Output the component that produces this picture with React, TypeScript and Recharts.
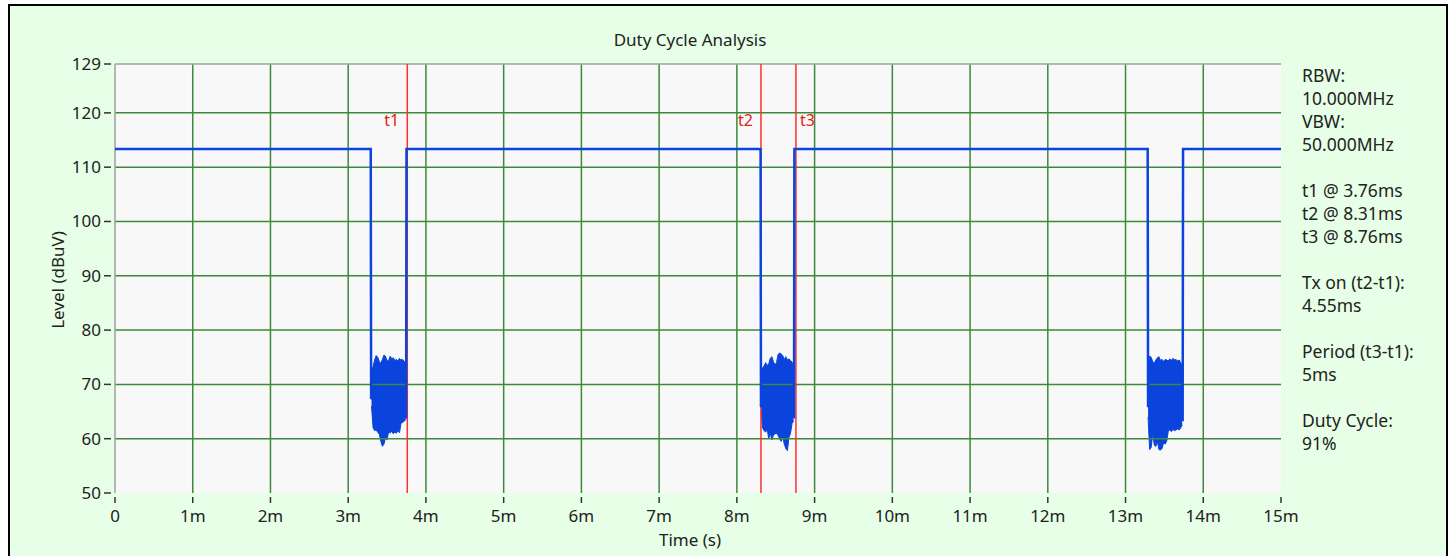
import React from 'react';
import { ComposedChart, Line, Area, XAxis, YAxis, ReferenceLine, ReferenceArea } from 'recharts';

// time axis in ms, level in dBuV
const timeTicks = [0, 1, 2, 3, 4, 5, 6, 7, 8, 9, 10, 11, 12, 13, 14, 15];
const levelTicks = [50, 60, 70, 80, 90, 100, 110, 120, 129];
const gridTimes = [1, 2, 3, 4, 5, 6, 7, 8, 9, 10, 11, 12, 13, 14];
const gridLevels = [60, 70, 80, 90, 100, 110, 120];

// main trace: carrier level with the drops into each off burst
const traceTimes = [0, 3.29, 3.295, 3.745, 3.75, 8.305, 8.31, 8.735, 8.74, 13.285, 13.29, 13.735, 13.74, 15];
const traceLevels = [113.35, 113.35, 67.5, 64.0, 113.35, 113.35, 66.0, 64.0, 113.35, 113.35, 66.0, 63.5, 113.35, 113.35];

// noise floor while the transmitter is off: [t, low, high]
const burst1: [number, number, number][] = [
  [3.30, 66.0, 72.5], [3.32, 62.0, 73.3], [3.34, 61.5, 74.5], [3.36, 61.6, 75.3],
  [3.38, 61.2, 75.0], [3.40, 60.8, 74.2], [3.42, 59.5, 73.9], [3.44, 58.6, 74.6],
  [3.46, 59.0, 75.4], [3.48, 60.2, 75.2], [3.50, 59.8, 74.3], [3.52, 61.3, 74.4],
  [3.54, 61.0, 75.2], [3.56, 61.4, 74.7], [3.58, 60.9, 74.9], [3.60, 61.2, 74.4],
  [3.62, 61.0, 74.6], [3.64, 61.5, 74.3], [3.66, 61.1, 74.8], [3.68, 62.9, 74.5],
  [3.70, 63.0, 74.6], [3.72, 63.2, 74.2], [3.74, 63.5, 74.0],
];
const burst2: [number, number, number][] = [
  [8.31, 65.0, 72.0], [8.33, 62.0, 73.0], [8.35, 61.5, 73.4], [8.37, 61.2, 74.0],
  [8.39, 61.8, 73.5], [8.41, 60.0, 73.8], [8.43, 61.0, 74.8], [8.45, 59.8, 75.1],
  [8.47, 60.6, 74.2], [8.49, 60.9, 73.6], [8.51, 61.0, 74.0], [8.53, 60.6, 75.5],
  [8.55, 60.0, 75.8], [8.57, 59.5, 75.6], [8.59, 60.4, 75.3], [8.61, 59.0, 74.6],
  [8.63, 58.2, 75.1], [8.65, 57.8, 74.5], [8.67, 60.2, 74.7], [8.69, 61.0, 74.4],
  [8.71, 62.8, 74.1], [8.73, 63.2, 73.0],
];
const burst3: [number, number, number][] = [
  [13.29, 64.0, 73.0], [13.31, 58.0, 75.2], [13.33, 58.4, 75.0], [13.35, 61.0, 74.2],
  [13.37, 58.8, 73.9], [13.39, 58.6, 74.5], [13.41, 59.5, 74.9], [13.43, 58.0, 75.1],
  [13.45, 57.9, 74.4], [13.47, 58.2, 74.6], [13.49, 59.3, 74.2], [13.51, 59.0, 74.6],
  [13.53, 59.6, 74.5], [13.55, 61.4, 74.3], [13.57, 61.6, 74.7], [13.59, 61.3, 74.4],
  [13.61, 61.7, 74.8], [13.63, 61.5, 74.5], [13.65, 61.6, 74.6], [13.67, 61.8, 74.3],
  [13.69, 61.6, 74.5], [13.71, 62.0, 74.0], [13.73, 62.5, 73.5],
];

const cursorNames = ['t1', 't2', 't3'];
const cursorTimes = [3.76, 8.31, 8.76];
const cursorSides = ['left', 'left', 'right'];

const infoLines = [
  'RBW:', '10.000MHz', 'VBW:', '50.000MHz', '',
  't1 @ 3.76ms', 't2 @ 8.31ms', 't3 @ 8.76ms', '',
  'Tx on (t2-t1):', '4.55ms', '',
  'Period (t3-t1):', '5ms', '',
  'Duty Cycle:', '91%',
];

type Row = { t: number; level?: number; band?: [number, number] };

const rows: Row[] = [
  ...traceTimes.map((t, i) => ({ t, level: traceLevels[i] })),
  ...[...burst1, ...burst2, ...burst3].map(([t, lo, hi]) => ({ t, band: [lo, hi] as [number, number] })),
].sort((a, b) => a.t - b.t);

const FONT = '"Noto Sans", "Open Sans", sans-serif';
const TEXT = '#222';
const GRID = '#3a8a3a';
const TRACE = '#0a44dc';
const CURSOR = '#ff3030';

const YTick = (props: any) => {
  const { x, y, payload } = props;
  return (
    <g>
      <line x1={x - 11} x2={x - 4} y1={y} y2={y} stroke="#333" strokeWidth={1.5} />
      <text x={x - 14} y={y} dy={6} textAnchor="end" fontSize={17} fill={TEXT} fontFamily={FONT}>
        {payload.value}
      </text>
    </g>
  );
};

const XTick = (props: any) => {
  const { x, y, payload } = props;
  return (
    <g>
      <line x1={x} x2={x} y1={y + 4} y2={y + 10} stroke="#333" strokeWidth={1.5} />
      <text x={x} y={y + 29} textAnchor="middle" fontSize={17} fill={TEXT} fontFamily={FONT}>
        {payload.value === 0 ? '0' : `${payload.value}m`}
      </text>
    </g>
  );
};

const CursorTag = (props: any) => {
  const { viewBox, text, side } = props;
  if (!viewBox) return null;
  const left = side === 'left';
  return (
    <text
      x={left ? viewBox.x - 8 : viewBox.x + 4}
      y={viewBox.y + 62}
      textAnchor={left ? 'end' : 'start'}
      fontSize={16}
      fill="#e02020"
      fontFamily={FONT}
    >
      {text}
    </text>
  );
};

export default function App() {
  return (
    <div style={{ position: 'absolute', left: 0, top: 0, width: 1453, height: 556, overflow: 'hidden', background: '#fff' }}>
      <div
        style={{
          position: 'absolute', left: 8, top: 4, width: 1436, height: 600,
          border: '2px solid #000', background: '#e6ffe6',
        }}
      />
      <div style={{ position: 'absolute', left: 0, top: 0 }}>
        <ComposedChart width={1453} height={556} data={rows} margin={{ top: 64, right: 172, bottom: 23, left: 15 }}>
          <XAxis
            dataKey="t"
            type="number"
            domain={[0, 15]}
            ticks={timeTicks}
            interval={0}
            axisLine={false}
            tickLine={false}
            tickSize={0}
            tickMargin={0}
            height={40}
            tick={<XTick />}
          />
          <YAxis
            type="number"
            domain={[50, 129]}
            ticks={levelTicks}
            interval={0}
            axisLine={false}
            tickLine={false}
            tickSize={0}
            tickMargin={0}
            width={100}
            tick={<YTick />}
          />
          <ReferenceArea x1={0} x2={15} y1={50} y2={129} fill="#f8f8f8" fillOpacity={1} stroke="none" />
          {gridTimes.map((t) => (
            <ReferenceLine key={`gx${t}`} x={t} stroke={GRID} strokeWidth={1.5} />
          ))}
          {gridLevels.map((v) => (
            <ReferenceLine key={`gy${v}`} y={v} stroke={GRID} strokeWidth={1.5} />
          ))}
          <ReferenceLine x={0} stroke="#a0a0a0" strokeWidth={1.5} />
          <ReferenceLine y={129} stroke="#a0a0a0" strokeWidth={1.5} />
          {cursorTimes.map((t, i) => (
            <ReferenceLine
              key={cursorNames[i]}
              x={t}
              stroke={CURSOR}
              strokeWidth={1.5}
              label={<CursorTag text={cursorNames[i]} side={cursorSides[i]} />}
            />
          ))}
          <Area
            dataKey="band"
            type="linear"
            stroke={TRACE}
            strokeWidth={1}
            fill={TRACE}
            fillOpacity={1}
            connectNulls={false}
            isAnimationActive={false}
          />
          <Line
            dataKey="level"
            type="linear"
            stroke={TRACE}
            strokeWidth={2.5}
            dot={false}
            connectNulls
            isAnimationActive={false}
          />
        </ComposedChart>
      </div>
      <div style={{ position: 'absolute', left: 0, width: 1380, top: 28, textAlign: 'center', fontFamily: FONT, fontSize: 17, color: TEXT }}>
        Duty Cycle Analysis
      </div>
      <div style={{ position: 'absolute', left: 0, width: 1380, top: 528, textAlign: 'center', fontFamily: FONT, fontSize: 17, color: TEXT }}>
        Time (s)
      </div>
      <div
        style={{
          position: 'absolute', left: 57, top: 280, transform: 'translate(-50%, -50%) rotate(-90deg)',
          whiteSpace: 'nowrap', fontFamily: FONT, fontSize: 17, color: TEXT,
        }}
      >
        Level (dBuV)
      </div>
      <div
        style={{
          position: 'absolute', left: 1302, top: 64, fontFamily: FONT, fontSize: 17.5, lineHeight: '23px',
          color: TEXT, whiteSpace: 'pre',
        }}
      >
        {infoLines.join('\n')}
      </div>
    </div>
  );
}
